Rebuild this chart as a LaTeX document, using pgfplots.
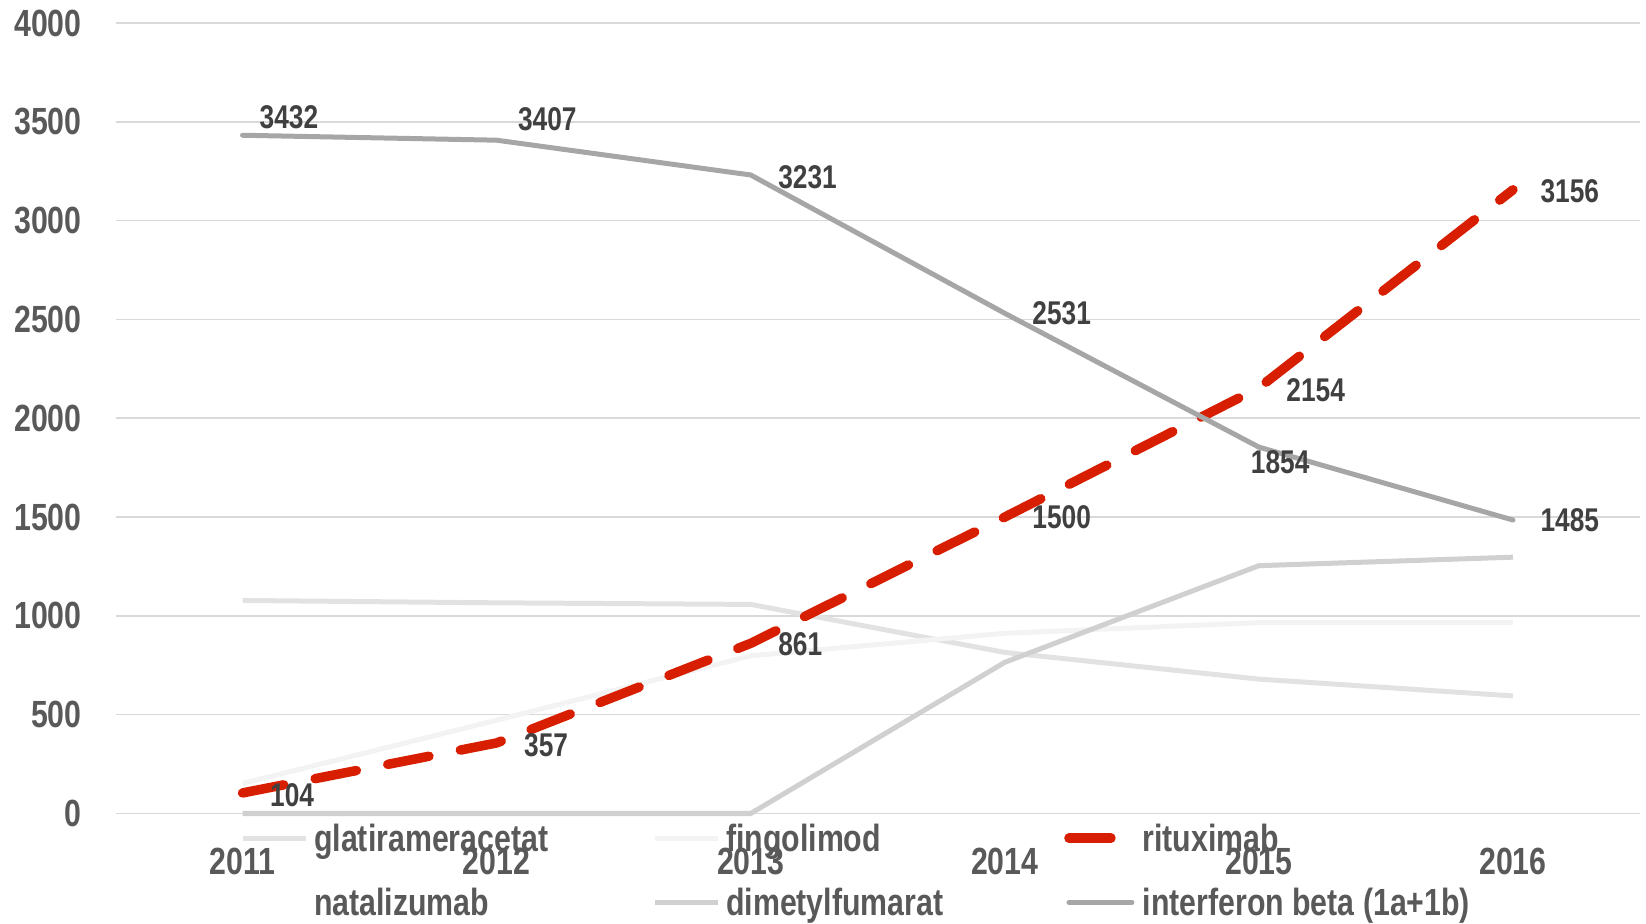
\documentclass[border=0pt]{standalone}
\usepackage{pgfplots}
\pgfplotsset{compat=1.18}
\usepackage{fontspec}
\setmainfont{Liberation Sans}[FakeStretch=0.8]
\definecolor{ifn}{HTML}{A6A6A6}
\definecolor{gla}{HTML}{E2E2E2}
\definecolor{fin}{HTML}{F3F3F3}
\definecolor{dmf}{HTML}{D0D0D0}
\definecolor{rtx}{HTML}{D81E00}
\definecolor{tickc}{HTML}{595959}
\definecolor{labc}{HTML}{404040}
\definecolor{gridc}{HTML}{D9D9D9}
\newcommand{\lab}[4]{\node[anchor=west,inner sep=0pt,font=\fontsize{16.5}{18}\selectfont\bfseries,text=labc] at (axis cs:#1,#2) [xshift=#3,yshift=#4] {#2};}
\begin{document}
\begin{tikzpicture}
\useasboundingbox (0,0) rectangle (823bp,462bp);
\begin{axis}[
  at={(57.75bp,55.25bp)}, anchor=south west,
  scale only axis, width=762.25bp, height=395.25bp,
  xmin=-0.5, xmax=5.5, ymin=0, ymax=4000,
  xtick={0,1,2,3,4,5}, xticklabels={2011,2012,2013,2014,2015,2016},
  ytick={0,500,...,4000},
  axis x line*=bottom, axis y line*=left,
  axis line style={draw=none},
  major tick length=0pt,
  ymajorgrids, grid style={color=gridc, line width=0.75bp},
  /pgf/number format/assume math mode=true,
  /pgf/number format/1000 sep={},
  tick label style={font=\fontsize{19}{22}\selectfont\bfseries, text=tickc},
  yticklabel style={anchor=east, inner sep=0pt, xshift=-16.75bp},
  xticklabel style={anchor=center, inner sep=0pt, yshift=-23.75bp},
  clip=false,
  legend columns=3,
  legend cell align=left,
  legend style={at={(axis description cs:0.0818,-0.0123)}, anchor=north west,
    draw=none, fill=none, inner sep=0pt, outer sep=0pt,
    font=\fontsize{19}{22}\selectfont\bfseries, text=tickc,
    row sep=13bp, column sep=0pt,
    nodes={inner sep=0pt, text height=14bp, text depth=5bp},
    /tikz/every odd column/.style={column sep=3bp}},
  legend image code/.code={\draw[#1] (0bp,2bp) -- (31.5bp,2bp);},
]
\addplot[gla, line width=2.5bp, line join=round] coordinates {(0,1078)(1,1066)(2,1058)(3,815)(4,680)(5,595)};
\addlegendentry{\makebox[169bp][l]{glatirameracetat}}
\addplot[fin, line width=2.5bp, line join=round] coordinates {(0,152)(1,472)(2,798)(3,912)(4,966)(5,966)};
\addlegendentry{\makebox[169bp][l]{fingolimod}}
\addplot[rtx, line width=4.75bp, line cap=round, line join=round, dash pattern=on 21bp off 16bp] coordinates {(0,104)(1,357)(2,861)(3,1500)(4,2154)(5,3156)};
\addlegendentry{rituximab}
\addlegendimage{white, line width=2.5bp}
\addlegendentry{\makebox[169bp][l]{natalizumab}}
\addplot[dmf, line width=2.5bp, line join=round] coordinates {(0,0)(1,0)(2,0)(3,765)(4,1254)(5,1297)};
\addlegendentry{\makebox[169bp][l]{dimetylfumarat}}
\addplot[ifn, line width=2.5bp, line cap=round, line join=round] coordinates {(0,3432)(1,3407)(2,3231)(3,2531)(4,1854)(5,1485)};
\addlegendentry{interferon beta (1a+1b)}
\lab{0}{3432}{8.4bp}{8.9bp}
\lab{1}{3407}{10.5bp}{10.5bp}
\lab{2}{3231}{13.6bp}{-1bp}
\lab{3}{2531}{13.6bp}{0bp}
\lab{4}{1854}{-4.2bp}{-7.3bp}
\lab{5}{1485}{13.6bp}{0bp}
\lab{0}{104}{13.6bp}{-1bp}
\lab{1}{357}{13.6bp}{-1bp}
\lab{2}{861}{13.6bp}{-0.5bp}
\lab{3}{1500}{13.6bp}{0bp}
\lab{4}{2154}{13.6bp}{-1bp}
\lab{5}{3156}{13.6bp}{-0.5bp}
\end{axis}
\end{tikzpicture}
\end{document}
